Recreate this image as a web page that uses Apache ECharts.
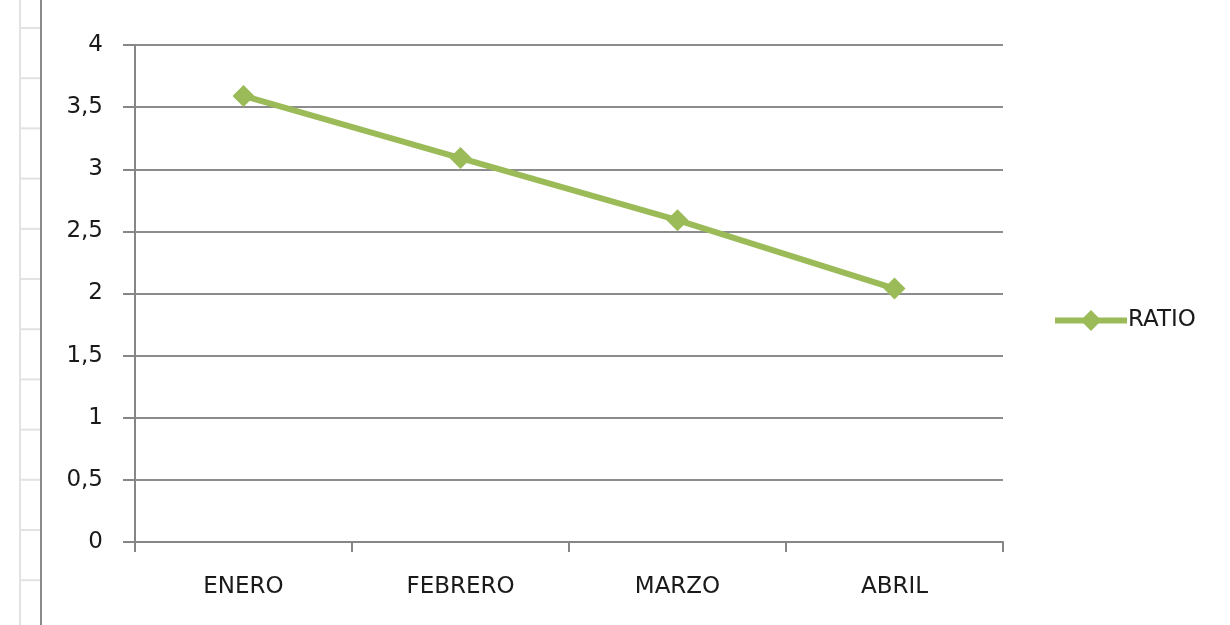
<!DOCTYPE html>
<html>
<head>
<meta charset="utf-8">
<script src="https://cdn.jsdelivr.net/npm/echarts@6/dist/echarts.min.js"></script>
<style>html,body{margin:0;padding:0;background:#fff}#c{width:1230px;height:625px}</style>
</head>
<body>
<div id="c"></div>
<script>
const categories = ['ENERO', 'FEBRERO', 'MARZO', 'ABRIL'];
const seriesName = 'RATIO';
const ratioValues = [3.59, 3.09, 2.59, 2.04];
const yTicks = { min: 0, max: 4, interval: 0.5 };

const chart = echarts.init(document.getElementById('c'));
const font = 'DejaVu Sans';
const fs = 23;
const rowLines = [];
for (let i = 0; i < 12; i++) {
  const y = 28 + i * 50.2;
  rowLines.push({ type: 'line', shape: { x1: 20, y1: y, x2: 40, y2: y }, style: { stroke: '#e2e2e2', lineWidth: 2 }, silent: true });
}
chart.setOption({
  animation: false,
  backgroundColor: '#ffffff',
  graphic: [
    { type: 'line', shape: { x1: 20, y1: 0, x2: 20, y2: 625 }, style: { stroke: '#e2e2e2', lineWidth: 2 }, silent: true },
    { type: 'line', shape: { x1: 41, y1: 0, x2: 41, y2: 625 }, style: { stroke: '#8a8a8a', lineWidth: 2 }, silent: true }
  ].concat(rowLines),
  grid: { left: 135, top: 45, right: 227, bottom: 83, containLabel: false },
  legend: {
    data: [seriesName],
    left: 1047, top: 304,
    itemWidth: 72, itemHeight: 26, itemGap: 8,
    lineStyle: { width: 6, color: '#9bbb59' },
    textStyle: { fontFamily: font, fontSize: fs, color: '#1a1a1a', padding: [0, 0, 0, -4] }
  },
  xAxis: {
    type: 'category',
    data: categories,
    boundaryGap: true,
    axisLine: { lineStyle: { color: '#868686', width: 2 } },
    axisTick: { show: true, length: 10, lineStyle: { color: '#868686', width: 2 } },
    axisLabel: { margin: 34, fontFamily: font, fontSize: fs, color: '#1a1a1a' },
    splitLine: { show: false }
  },
  yAxis: {
    type: 'value',
    min: yTicks.min, max: yTicks.max, interval: yTicks.interval,
    axisLine: { show: true, lineStyle: { color: '#868686', width: 2 } },
    axisTick: { show: true, length: 12, lineStyle: { color: '#868686', width: 2 } },
    axisLabel: {
      margin: 32, fontFamily: font, fontSize: fs, color: '#1a1a1a',
      formatter: v => String(v).replace('.', ',')
    },
    splitLine: { show: true, lineStyle: { color: '#8c8c8c', width: 2 } }
  },
  series: [{
    name: seriesName,
    type: 'line',
    data: ratioValues,
    symbol: 'diamond',
    symbolSize: 22,
    lineStyle: { color: '#9bbb59', width: 6 },
    itemStyle: { color: '#9bbb59' }
  }]
});
</script>
</body>
</html>
